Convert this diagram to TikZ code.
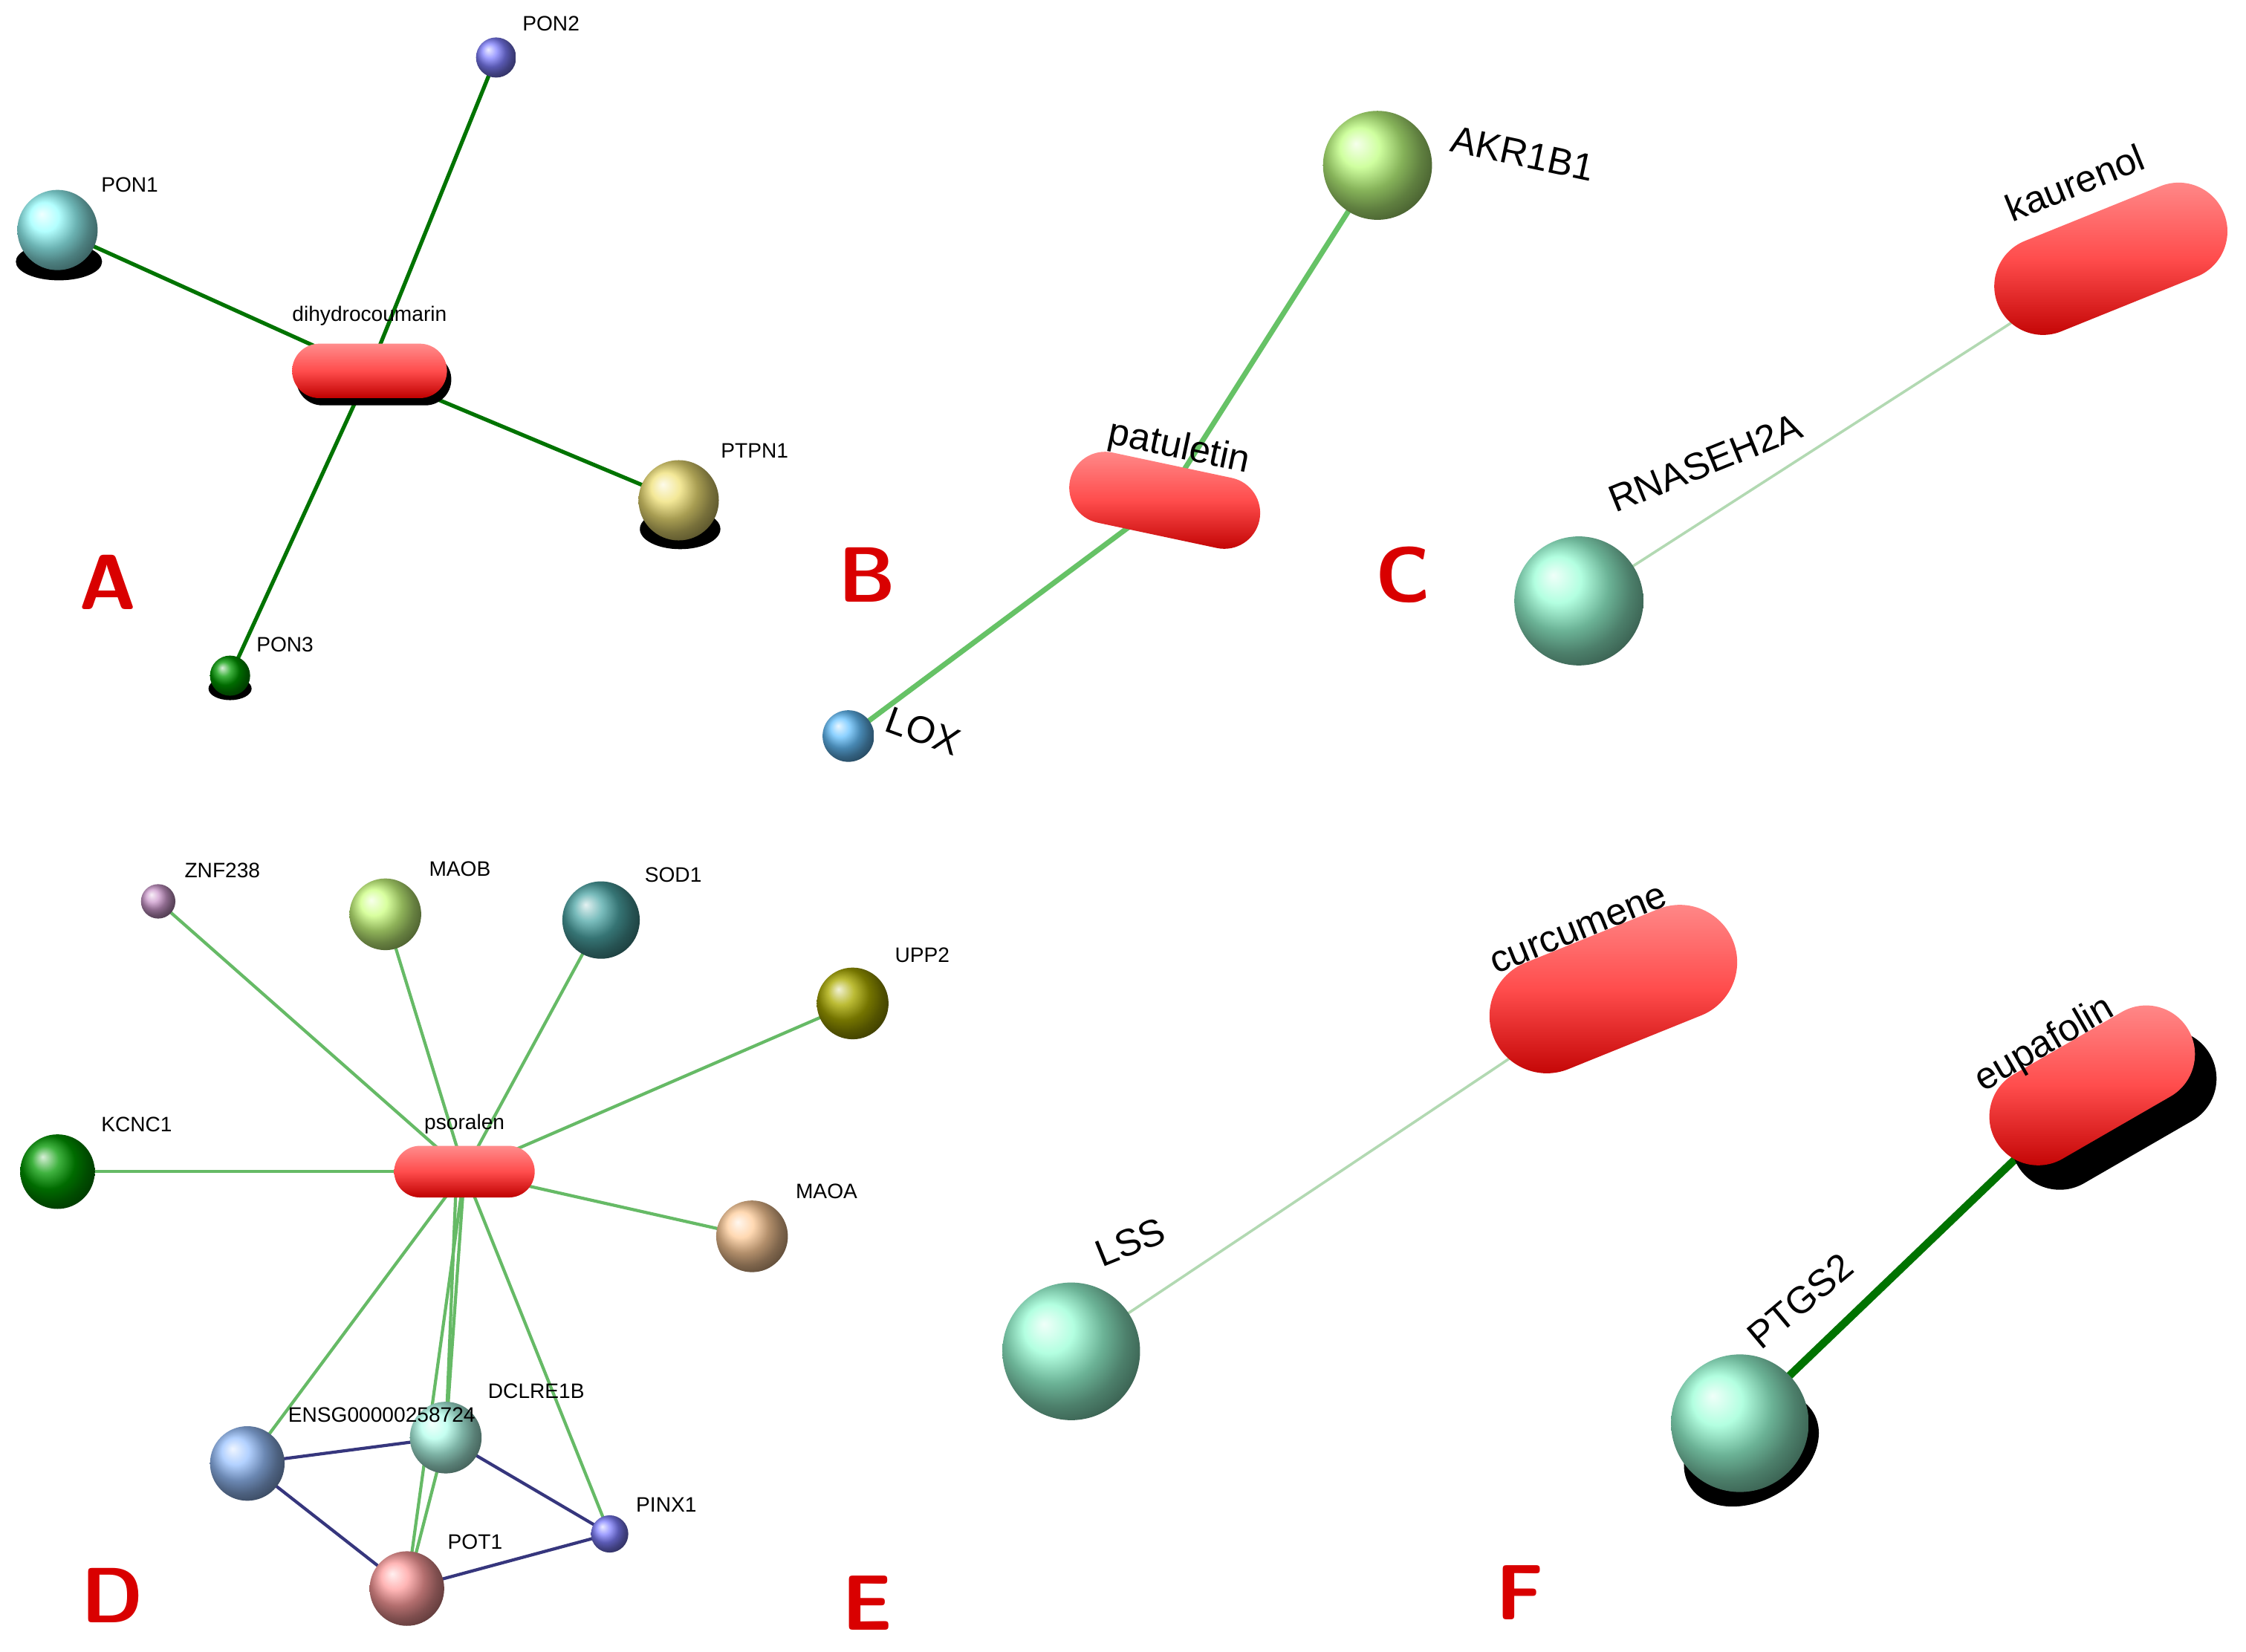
\documentclass[tikz,border=0pt]{standalone}
\usepackage{fontspec}
\setmainfont{Liberation Sans}
\usetikzlibrary{shapes.misc}
\begin{document}
\begin{tikzpicture}[x=0.019354cm,y=-0.019354cm,
 ball/.style={circle,ball color=#1,draw=none,inner sep=0pt},
 sz/.style={minimum size={#1*0.549pt}},
 pw/.style={minimum width={#1*0.549pt}},
 ph/.style={minimum height={#1*0.549pt}},
 pill/.style={rounded rectangle,draw=none,top color=red!45!white,bottom color=red!75!black,middle color=red!70,inner sep=0pt},
 shadowpill/.style={rounded rectangle,draw=none,fill=black,inner sep=0pt},
 lab/.style={font=\sffamily\bfseries\fontsize{30}{30}\selectfont,text=red!85!black},
 t/.style={font=\fontsize{8}{8}\selectfont},
 T/.style={font=\fontsize{14.5}{14.5}\selectfont},
 eA/.style={draw=green!45!black,line width=1.5pt},
 eB/.style={draw=green!60!black!60,line width=2pt},
 eC/.style={draw=green!50!black!30,line width=1pt},
 eD/.style={draw=green!55!black!60,line width=1.2pt},
 eG/.style={draw=gray!60!blue!70!black,line width=1.2pt},
 eF/.style={draw=green!45!black,line width=3pt}]
\useasboundingbox (0,0) rectangle (1562,1149);
\fill[white] (0,0) rectangle (1562,1149);
% ---- A
\coordinate (dc) at (257,258);
\coordinate (pon1) at (40,160); \coordinate (pon2) at (345,40);
\coordinate (ptpn1) at (472,348); \coordinate (pon3) at (160,470);
\draw[eA] (dc)--(pon1); \draw[eA] (dc)--(pon2); \draw[eA] (dc)--(ptpn1); \draw[eA] (dc)--(pon3);
\fill[black] (41,182) ellipse (30 and 13);
\fill[black] (473,368) ellipse (28 and 14);
\fill[black] (160,479) ellipse (15 and 8);
\node[shadowpill,pw=108,ph=36] at (260,264) {};
\node[pill,pw=108,ph=38] (dcn) at (dc) {};
\node[t,anchor=south] at (257,233) {dihydrocoumarin};
\node[ball=cyan!40,sz=56] (p1) at (pon1) {};
\node[t,anchor=south west] at (64,140) {PON1};
\node[ball=blue!50,sz=28] (p2) at (pon2) {};
\node[t,anchor=south west] at (357,28) {PON2};
\node[ball=yellow!60!brown!60,sz=56] (pt) at (ptpn1) {};
\node[t,anchor=south west] at (495,325) {PTPN1};
\node[ball=green!60!black,sz=28] (p3) at (pon3) {};
\node[t,anchor=south west] at (172,460) {PON3};
\node[lab] at (75,405) {A};
% ---- B
\coordinate (pat) at (810,348); \coordinate (akr) at (958,115); \coordinate (lox) at (590,512);
\draw[eB] (pat)--(akr); \draw[eB] (pat)--(lox);
\node[pill,pw=135,ph=50,rotate=-12] (patn) at (pat) {};
\node[T,rotate=-12] at (820,312) {patuletin};
\node[ball=green!50!yellow!50,sz=76] (ak) at (akr) {};
\node[T,rotate=-12,anchor=south west] at (1000,110) {AKR1B1};
\node[ball=cyan!60!blue!60,sz=36] (lx) at (lox) {};
\node[T,rotate=-20,anchor=south west] at (606,512) {LOX};
\node[lab] at (603,400) {B};
% ---- C
\coordinate (kau) at (1468,180); \coordinate (rna) at (1098,418);
\draw[eC] (kau)--(rna);
\node[pill,pw=170,ph=68,rotate=22] (kaun) at (kau) {};
\node[T,rotate=22] at (1443,127) {kaurenol};
\node[ball=green!40!cyan!40,sz=90] (rn) at (rna) {};
\node[T,rotate=22] at (1186,322) {RNASEH2A};
\node[lab] at (976,400) {C};
% ---- D
\coordinate (pso) at (323,815);
\coordinate (znf) at (110,627); \coordinate (maob) at (268,636); \coordinate (sod) at (418,640);
\coordinate (upp) at (593,698); \coordinate (kcn) at (40,815); \coordinate (maoa) at (523,860);
\coordinate (ens) at (172,1018); \coordinate (dcl) at (310,1000); \coordinate (pinx) at (424,1067);
\coordinate (pot) at (283,1105);
\foreach \n in {znf,maob,sod,upp,kcn,maoa,ens,dcl,pinx,pot} \draw[eD] (pso)--(\n);
\draw[eD] ([xshift=-3]pso)--(dcl);
\draw[eG] (ens)--(dcl); \draw[eG] (ens)--(pot); \draw[eG] (dcl)--(pinx); \draw[eG] (pot)--(pinx);
\draw[eD] (dcl)--(pot);
\node[pill,pw=98,ph=36] (psn) at (pso) {};
\node[t,anchor=south] at (323,795) {psoralen};
\node[ball=violet!40,sz=24] at (znf) {};
\node[ball=green!40!yellow!50,sz=50] at (maob) {};
\node[ball=teal!70,sz=54] at (sod) {};
\node[ball=olive!70,sz=50] at (upp) {};
\node[ball=green!60!black,sz=52] at (kcn) {};
\node[ball=orange!40,sz=50] at (maoa) {};
\node[ball=cyan!40!blue!40,sz=52] at (ens) {};
\node[ball=green!25!cyan!30,sz=50] at (dcl) {};
\node[ball=blue!50,sz=26] at (pinx) {};
\node[ball=red!40!pink!70,sz=52] at (pot) {};
\node[t,anchor=south west] at (122,617) {ZNF238};
\node[t,anchor=south west] at (292,616) {MAOB};
\node[t,anchor=south west] at (442,620) {SOD1};
\node[t,anchor=south west] at (616,676) {UPP2};
\node[t,anchor=south west] at (64,794) {KCNC1};
\node[t,anchor=south west] at (547,840) {MAOA};
\node[t,anchor=south west] at (194,996) {ENSG00000258724};
\node[t,anchor=south west] at (333,979) {DCLRE1B};
\node[t,anchor=south west] at (436,1058) {PINX1};
\node[t,anchor=south west] at (305,1084) {POT1};
\node[lab] at (78,1110) {D};
\node[lab] at (603,1115) {E};
% ---- E/F
\coordinate (cur) at (1122,688); \coordinate (lss) at (745,940);
\draw[eC] (cur)--(lss);
\node[pill,pw=180,ph=80,rotate=22] at (cur) {};
\node[T,rotate=22] at (1098,647) {curcumene};
\node[ball=green!40!cyan!40,sz=96] at (lss) {};
\node[T,rotate=22] at (786,864) {LSS};
\coordinate (eup) at (1455,755); \coordinate (ptg) at (1210,990);
\draw[eF] (eup)--(ptg);
\node[shadowpill,pw=155,ph=68,rotate=30] at (1470,772) {};
\fill[black,rotate around={30:(1218,1008)}] (1218,1008) ellipse (50 and 36);
\node[pill,pw=155,ph=68,rotate=30] at (eup) {};
\node[T,rotate=30] at (1422,727) {eupafolin};
\node[ball=green!40!cyan!40,sz=96] at (ptg) {};
\node[T,rotate=40] at (1252,905) {PTGS2};
\node[lab] at (1057,1108) {F};
\end{tikzpicture}
\end{document}
